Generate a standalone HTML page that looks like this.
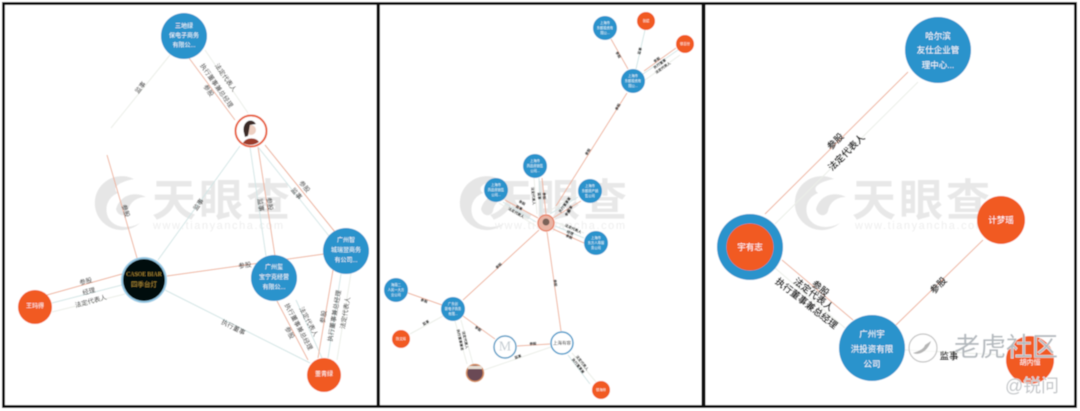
<!DOCTYPE html>
<html lang="zh">
<head>
<meta charset="utf-8">
<style>
html,body{margin:0;padding:0;background:#fff;width:1080px;height:411px;overflow:hidden}
svg{display:block}
text{font-family:"Liberation Sans","Noto Sans CJK SC",sans-serif;text-anchor:middle;dominant-baseline:central}
.w{fill:#fff;font-size:6px}
.W{fill:#fff;font-size:8.5px}
.b{fill:#2f2f2f;font-size:6.5px}
.B3{fill:#252525;font-size:9.5px;font-weight:700}
.s{fill:#222;font-size:3.6px;font-weight:700}
.t{fill:#fff;font-size:3.3px}
.wm{fill:#e8e8e8;font-size:44px;font-weight:700}
.wu{fill:#eeeeee;font-size:11px}
.r{stroke:#eeb29b;stroke-width:1;fill:none}
.g{stroke:#d3e6e6;stroke-width:1;fill:none}
.l{stroke:#ebeee8;stroke-width:1;fill:none}
.B{fill:#2b93cc}
.O{fill:#f15a22}
</style>
</head>
<body>
<svg width="1080" height="411" viewBox="0 0 1080 411" xmlns="http://www.w3.org/2000/svg">
<defs>
<filter id="soft" x="-5%" y="-5%" width="110%" height="110%"><feGaussianBlur stdDeviation="0.55"/></filter>
<g id="logo">
<path d="M34 -26 A27 27 0 1 0 40 18 C30 24 14 24 8 12 C4 2 8 -8 18 -12 C10 -18 22 -24 34 -26Z" fill="#e6e6e6"/>
<path d="M16 4 C20 -10 34 -14 46 -8 C38 -8 30 -4 28 6 C26 12 18 12 16 4Z" fill="#e6e6e6"/>
</g>
</defs>
<g filter="url(#soft)">
<rect width="1080" height="411" fill="#fff"/>

<!-- watermarks -->
<use href="#logo" x="100" y="205"/>
<text x="221" y="201" class="wm" textLength="138">天眼查</text>
<text x="218" y="226" class="wu" textLength="130">www.tianyancha.com</text>
<use href="#logo" x="465" y="205"/>
<text x="558" y="201" class="wm" textLength="138">天眼查</text>
<text x="560" y="226" class="wu" textLength="130">www.tianyancha.com</text>
<use href="#logo" x="800" y="205"/>
<text x="921" y="201" class="wm" textLength="138">天眼查</text>
<text x="920" y="226" class="wu" textLength="130">www.tianyancha.com</text>

<!-- PANEL 1 lines -->
<path class="l" d="M170 55L111 128"/>
<path class="r" d="M107 155L137 258"/>
<path class="r" d="M189 58L235 120"/>
<path class="l" d="M205 50L248 113"/>
<path class="g" d="M240 146L158 260"/>
<path class="g" d="M250 147L266 256"/>
<path class="r" d="M258 147L275 256"/>
<path class="r" d="M265 145L335 232"/>
<path class="g" d="M258 147L329 236"/>
<path class="r" d="M324 254L167 276"/>
<path class="r" d="M47 295L122 274"/>
<path class="g" d="M52 303L122 285"/>
<path class="l" d="M52 312L125 294"/>
<path class="g" d="M310 363L165 290"/>
<path class="r" d="M308 360L277 301"/>
<path class="g" d="M322 358L296 300"/>
<path class="r" d="M318 358L333 270"/>
<path class="g" d="M328 358L341 274"/>
<path class="l" d="M337 360L351 273"/>

<!-- PANEL 1 labels -->
<text class="b" transform="translate(141 88) rotate(-52)">监事</text>
<text class="b" transform="translate(125 211) rotate(73)">参股</text>
<text class="b" transform="translate(208 91) rotate(55)">参股</text>
<text class="b" transform="translate(216 86) rotate(55)">执行董事兼总经理</text>
<text class="b" transform="translate(225 78) rotate(55)">法定代表人</text>
<text class="b" transform="translate(199 205) rotate(-55)">监事</text>
<text class="b" transform="translate(260 205) rotate(82)">监事</text>
<text class="b" transform="translate(269 204) rotate(82)">参股</text>
<text class="b" transform="translate(304 187) rotate(50)">参股</text>
<text class="b" transform="translate(296 194) rotate(50)">监事</text>
<text class="b" transform="translate(245 266) rotate(-8)">参股</text>
<text class="b" transform="translate(86 282) rotate(-15)">参股</text>
<text class="b" transform="translate(89 292) rotate(-15)">经理</text>
<text class="b" transform="translate(91 302) rotate(-15)">法定代表人</text>
<text class="b" transform="translate(233 328) rotate(27)">执行董事</text>
<text class="b" transform="translate(289 333) rotate(62)">参股</text>
<text class="b" transform="translate(298 327) rotate(62)">执行董事兼总经理</text>
<text class="b" transform="translate(308 322) rotate(62)">法定代表人</text>
<text class="b" transform="translate(324 317) rotate(-80)">参股</text>
<text class="b" transform="translate(335 316) rotate(-80)">执行董事兼总经理</text>
<text class="b" transform="translate(346 313) rotate(-80)">法定代表人</text>

<!-- PANEL 1 nodes -->
<circle cx="184" cy="36" r="23" class="B"/>
<text x="184" y="27" class="w">三地绿</text>
<text x="184" y="36.500" class="w">保电子商务</text>
<text x="184" y="46" class="w">有限公...</text>

<circle cx="251" cy="131" r="15.5" fill="#fff" stroke="#e8603c" stroke-width="2"/>
<circle cx="251" cy="130" r="5" fill="#eed0c2"/>
<path d="M244 133a7 9 0 0 1 12-9l-6 1-2 11-3 1z" fill="#3a2a28"/>
<path d="M243 143c3-6 13-6 16-1a15 15 0 0 1-16 1z" fill="#9b3a2c"/>

<circle cx="144" cy="280" r="23" fill="#2b93cc" opacity=".5"/>
<circle cx="144" cy="280" r="21" fill="#05090c"/>
<text x="144" y="275" style="fill:#b8973a;font-size:6px;font-family:'Liberation Serif',serif">CASOE BIAR</text>
<text x="144" y="285" style="fill:#a98a36;font-size:6.5px">四季台灯</text>

<circle cx="35" cy="307" r="17" class="O"/>
<text x="35" y="307" class="w">王玛得</text>

<circle cx="274" cy="278" r="23" class="B"/>
<text x="274" y="268" class="w">广州玺</text>
<text x="274" y="278" class="w">宝宁克经营</text>
<text x="274" y="288" class="w">有限公...</text>

<circle cx="346" cy="251" r="23" class="B"/>
<text x="346" y="241" class="w">广州智</text>
<text x="346" y="251" class="w">城瑞翌商务</text>
<text x="346" y="261" class="w">有公司...</text>

<circle cx="324" cy="375" r="17" class="O"/>
<text x="324" y="375" class="w">董青绿</text>

<!-- PANEL 2 lines -->
<path class="r" d="M556 206L627 93"/>
<path class="r" d="M628 69L611 39"/>
<path class="g" d="M636 69L645 30"/>
<path class="r" d="M644 71L676 48"/>
<path class="g" d="M640 76L678 50"/>
<path class="l" d="M645 80L680 55"/>
<path class="g" d="M539 178L541 213"/>
<path class="l" d="M534 178L537 214"/>
<path class="r" d="M542 178L546 214"/>
<path class="r" d="M505 200L538 218"/>
<path class="g" d="M503 202L536 222"/>
<path class="l" d="M499 203L536 226"/>
<path class="r" d="M581 201L553 218"/>
<path class="g" d="M578 197L550 214"/>
<path class="l" d="M576 194L548 212"/>
<path class="l" d="M555 222L584 233"/>
<path class="g" d="M555 226L584 238"/>
<path class="r" d="M553 229L584 243"/>
<path class="r" d="M539 230L463 300"/>
<path class="r" d="M547 232L561 331"/>
<path class="r" d="M442 305L408 293"/>
<path class="l" d="M443 316L410 334"/>
<path class="r" d="M495 339L463 316"/>
<path class="l" d="M461 320L473 364"/>
<path class="l" d="M455 321L467 364"/>
<path class="r" d="M517 346L550 344"/>
<path class="l" d="M484 370L551 347"/>
<path class="l" d="M572 353L596 382"/>
<path class="g" d="M568 355L590 384"/>

<!-- PANEL 2 labels -->
<text class="s" transform="translate(618 107) rotate(-60)">参股</text>
<text class="s" transform="translate(588 152) rotate(-58)">参股</text>
<text class="s" transform="translate(618 55) rotate(60)">参股</text>
<text class="s" transform="translate(640 51) rotate(-75)">监事</text>
<text class="s" transform="translate(657 60) rotate(-35)">参股</text>
<text class="s" transform="translate(660 64) rotate(-35)">执行董事</text>
<text class="s" transform="translate(663 68) rotate(-35)">法定代表人</text>
<text class="s" transform="translate(533 196) rotate(85)">法定代表人</text>
<text class="s" transform="translate(539 196) rotate(85)">监事</text>
<text class="s" transform="translate(544 196) rotate(85)">参股</text>
<text class="s" transform="translate(522 203) rotate(30)">参股</text>
<text class="s" transform="translate(519 208) rotate(30)">监事</text>
<text class="s" transform="translate(516 213) rotate(30)">法定代表人</text>
<text class="s" transform="translate(565 205) rotate(-55)">执行董事兼</text>
<text class="s" transform="translate(570 209) rotate(-55)">监事</text>
<text class="s" transform="translate(568 213) rotate(-55)">参股</text>
<text class="s" transform="translate(573 229) rotate(25)">法定代表人</text>
<text class="s" transform="translate(570 233) rotate(25)">经理</text>
<text class="s" transform="translate(569 237) rotate(25)">参股</text>
<text class="s" transform="translate(499 266) rotate(-43)">参股</text>
<text class="s" transform="translate(555 283) rotate(82)">参股</text>
<text class="s" transform="translate(424 301) rotate(18)">参股</text>
<text class="s" transform="translate(426 323) rotate(-30)">监事</text>
<text class="s" transform="translate(478 329) rotate(36)">参股</text>
<text class="s" transform="translate(460 340) rotate(78)">执行董事兼总</text>
<text class="s" transform="translate(465 340) rotate(78)">法定代表人</text>
<text class="s" transform="translate(533 344) rotate(-3)">参股</text>
<text class="s" transform="translate(518 357) rotate(-20)">监事</text>
<text class="s" transform="translate(578 366) rotate(52)">执行董事兼</text>
<text class="s" transform="translate(582 363) rotate(52)">法定代表人</text>

<!-- PANEL 2 nodes -->
<circle cx="605" cy="28" r="12" class="B"/>
<text x="605" y="23" class="t">上海市</text><text x="605" y="28" class="t">东都投资有</text><text x="605" y="33" class="t">限公...</text>
<circle cx="646" cy="21" r="9" class="O"/><text x="646" y="21" class="t">张斌</text>
<circle cx="685" cy="44" r="9" class="O"/><text x="685" y="44" class="t">徐百世</text>
<circle cx="633" cy="81" r="12" class="B"/>
<text x="633" y="76" class="t">上海市</text><text x="633" y="81" class="t">东都投资有</text><text x="633" y="86" class="t">限公...</text>
<circle cx="535" cy="166" r="12" class="B"/>
<text x="535" y="161" class="t">上海市</text><text x="535" y="166" class="t">商品房销售</text><text x="535" y="171" class="t">公司...</text>
<circle cx="496" cy="190" r="12" class="B"/>
<text x="496" y="185" class="t">上海市</text><text x="496" y="190" class="t">商品房销售</text><text x="496" y="195" class="t">公司...</text>
<circle cx="590" cy="191" r="12" class="B"/>
<text x="590" y="186" class="t">上海市</text><text x="590" y="191" class="t">东都房产销</text><text x="590" y="196" class="t">售公司</text>
<circle cx="546" cy="223" r="8" fill="#e9b5a5" stroke="#e8856a" stroke-width="1.5"/>
<circle cx="546" cy="222" r="3.500" fill="#7a6258"/>
<circle cx="596" cy="243" r="12" class="B"/>
<text x="596" y="238" class="t">上海市</text><text x="596" y="243" class="t">东方人寿服</text><text x="596" y="248" class="t">务公司</text>
<circle cx="396" cy="290" r="12" class="B"/>
<text x="396" y="285" class="t">海南二</text><text x="396" y="290" class="t">人民一大方</text><text x="396" y="295" class="t">业公司</text>
<circle cx="453" cy="309" r="12" class="B"/>
<text x="453" y="304" class="t">广东创</text><text x="453" y="309" class="t">新电子商务</text><text x="453" y="314" class="t">有限...</text>
<circle cx="401" cy="339" r="9" class="O"/><text x="401" y="339" class="t">陈文辉</text>
<circle cx="505" cy="347" r="11" fill="#fff" stroke="#5b9fc7" stroke-width="1.5"/>
<text x="505" y="347" style="fill:#c4ccd2;font-size:14px;font-family:'Liberation Serif',serif">M</text>
<circle cx="562" cy="343" r="11" fill="#fff" stroke="#4c9ccb" stroke-width="1.5"/>
<text x="562" y="343" style="fill:#333;font-size:4.500px">上海有容</text>
<circle cx="475" cy="373" r="8.500" fill="#6b4a55" stroke="#d98f5f" stroke-width="1.500"/>
<path d="M468 369h14v-3h-14z" fill="#e8dfd4"/>
<circle cx="601" cy="390" r="9" class="O"/><text x="601" y="390" class="t">徐海林</text>

<!-- PANEL 3 lines -->
<path class="r" d="M908 72L765 214"/>
<path class="l" d="M918 82L775 224"/>
<path class="r" d="M782 260L853 320"/>
<path class="l" d="M775 268L845 328"/>
<path class="r" d="M983 240L896 325"/>
<path class="l" d="M905 350L1005 355"/>

<!-- PANEL 3 labels -->
<text class="B3" transform="translate(836 142) rotate(-45)">参股</text>
<text class="B3" transform="translate(847 153) rotate(-45)">法定代表人</text>
<text class="B3" transform="translate(820 289) rotate(38)">参股</text>
<text class="B3" transform="translate(813 295) rotate(38)">法定代表人</text>
<text class="B3" transform="translate(806 304) rotate(38)">执行董事兼总经理</text>
<text class="B3" transform="translate(939 286) rotate(-45)">参股</text>
<text class="B3" x="949" y="357">监事</text>

<!-- PANEL 3 nodes -->
<circle cx="938" cy="50" r="33" class="B"/>
<text x="938" y="36" class="W">哈尔滨</text>
<text x="938" y="50" class="W">友仕企业管</text>
<text x="938" y="65" class="W">理中心...</text>

<circle cx="750" cy="247" r="33" class="B"/>
<circle cx="750" cy="247" r="23.500" class="O"/>
<text x="750" y="247" class="W">宇有志</text>

<circle cx="1001" cy="220" r="24" class="O"/>
<text x="1001" y="220" class="W">计梦瑶</text>

<circle cx="872" cy="348" r="33" class="B"/>
<text x="872" y="334" class="W">广州宇</text>
<text x="872" y="349" class="W">洪投资有限</text>
<text x="872" y="364" class="W">公司</text>

<circle cx="1030" cy="360" r="24" class="O"/>
<text x="1030" y="363" class="w" style="font-size:7px">胡内恒</text>

<!-- tiger watermark -->
<circle cx="923" cy="348" r="14" fill="#fff" fill-opacity=".6" stroke="#c4c4c4" stroke-width="1.2"/>
<path d="M913 353c6 3 15-2 18-12l-6 4c-1 4-6 6-12 8z" fill="#b5b5b5"/>
<text x="1006" y="347" style="fill:#b4b9be;font-size:26px;stroke:#fff;stroke-width:.8px;paint-order:stroke" textLength="104">老虎社区</text>
<text x="1032" y="386" style="fill:#c2c5c8;font-size:18px;stroke:#fff;stroke-width:.6px;paint-order:stroke" textLength="54">@锐问</text>

<!-- panel borders -->
<rect x="3.500" y="3.500" width="375" height="403" fill="none" stroke="#0b0b0b" stroke-width="3"/>
<rect x="378" y="3.500" width="325" height="403" fill="none" stroke="#0b0b0b" stroke-width="3"/>
<rect x="704" y="3.500" width="371.500" height="403" fill="none" stroke="#0b0b0b" stroke-width="3"/>
</g>
</svg>
</body>
</html>
